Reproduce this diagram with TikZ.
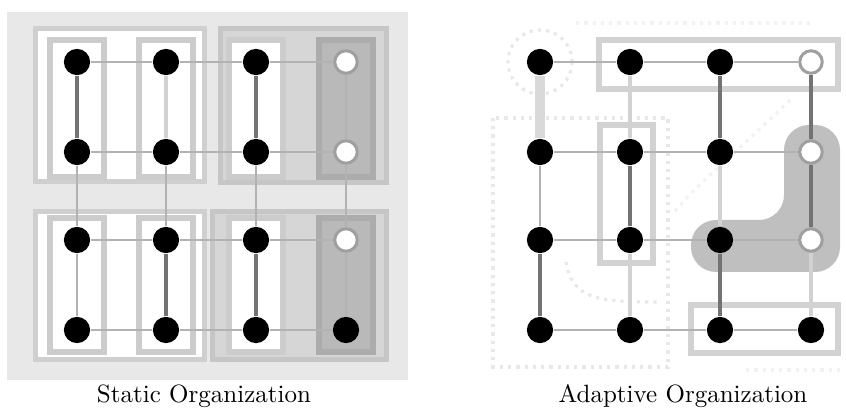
\documentclass[tikz,border=0pt]{standalone}
\usepackage{tikz}
\usetikzlibrary{positioning}

\begin{document}
\begin{tikzpicture}[
    x=0.4pt, y=-0.4pt,
    pe/.style={circle, fill=black, inner sep=0pt, minimum size=10.5pt},
    idle/.style={circle, fill=white, draw=gray!75, line width=1.2pt, inner sep=0pt, minimum size=9pt},
    link/.style={gray!60, line width=1.1pt},
    strong/.style={black!55, line width=1.6pt},
    weak/.style={gray!35, line width=1.4pt},
    wide/.style={gray!30, line width=4pt},
    colbox/.style={fill=white, draw=gray!40, line width=2.4pt},
    quad/.style={draw=gray!38, line width=2pt},
    hint/.style={gray!18, dotted, line width=1.3pt}
]
\useasboundingbox (0,0) rectangle (846,410);

% Static organization: fixed blocks
\fill[gray!18] (7,12) rectangle (408,380);
\draw[quad, fill=white] (35,29) rectangle (204,182);
\draw[quad, fill=gray!32, draw=gray!45] (220,29) rectangle (386,183);
\draw[quad, fill=white] (35,212) rectangle (204,360);
\draw[quad, fill=gray!32, draw=gray!45] (212,212) rectangle (386,360);
\foreach \x in {77,166,256} {
    \draw[colbox] (\x-27,40) rectangle (\x+27,177);
    \draw[colbox] (\x-27,218) rectangle (\x+27,352);
}
\draw[colbox, fill=gray!55, draw=gray!65] (319,40) rectangle (373,177);
\draw[colbox, fill=gray!55, draw=gray!65] (319,218) rectangle (373,352);

% Adaptive organization: regions follow the load
\draw[hint] (493,118) rectangle (668,367);
\draw[hint] (540,62) circle (32);
\draw[hint] (566,262) .. controls (572,300) and (600,302) .. (660,302);
\draw[hint, gray!10] (790,100) .. controls (740,150) and (700,180) .. (672,215);
\draw[hint, gray!10] (576,23) -- (812,23);
\draw[hint, gray!10] (746,370) -- (840,370);
\draw[colbox, draw=gray!35] (599,40) rectangle (838,89);
\draw[colbox, draw=gray!35] (600,125) rectangle (653,263);
\draw[colbox, draw=gray!35] (691,305) rectangle (838,353);
\fill[gray!50, rounded corners=10pt] (784,125) -- (840,125) -- (840,272)
    -- (691,272) -- (691,220) -- (784,220) -- cycle;

% Processing elements
\foreach \c/\x in {1/77,2/166,3/256}
    \foreach \r/\y in {1/62,2/152,3/240,4/330}
        \node[pe] (s\c\r) at (\x,\y) {};
\foreach \r/\y in {1/62,2/152,3/240}
    \node[idle] (s4\r) at (346,\y) {};
\node[pe] (s44) at (346,330) {};

\foreach \c/\x in {1/540,2/630,3/720}
    \foreach \r/\y in {1/62,2/152,3/240,4/330}
        \node[pe] (a\c\r) at (\x,\y) {};
\foreach \r/\y in {1/62,2/152,3/240}
    \node[idle] (a4\r) at (811,\y) {};
\node[pe] (a44) at (811,330) {};

% Mesh links
\foreach \r in {1,...,4} {
    \draw[link] (s1\r) -- (s2\r) -- (s3\r) -- (s4\r);
    \draw[link] (a1\r) -- (a2\r) -- (a3\r) -- (a4\r);
}
\foreach \a/\b/\st in {s11/s12/strong, s12/s13/link, s13/s14/link,
    s21/s22/weak, s22/s23/link, s23/s24/strong,
    s31/s32/strong, s32/s33/link, s33/s34/strong,
    s41/s42/link, s42/s43/link, s43/s44/link}
    \draw[\st] (\a) -- (\b);
\foreach \a/\b/\st in {a11/a12/wide, a12/a13/link, a13/a14/strong,
    a21/a22/weak, a22/a23/strong, a23/a24/weak,
    a31/a32/strong, a32/a33/weak, a33/a34/strong,
    a41/a42/strong, a42/a43/strong, a43/a44/weak}
    \draw[\st] (\a) -- (\b);

% Captions
\node (static) at (204,396) {Static Organization};
\node (adaptive) at (683,396) {Adaptive Organization};

\end{tikzpicture}
\end{document}
